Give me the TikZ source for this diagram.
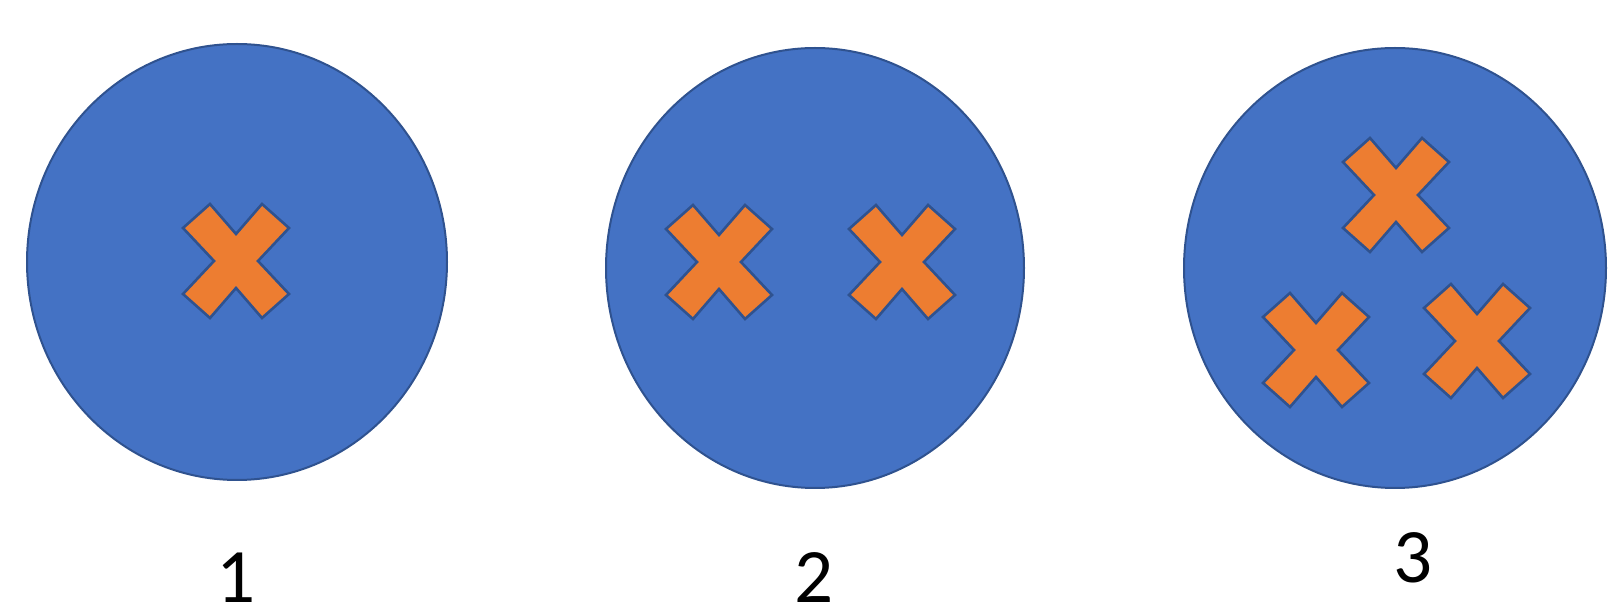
\documentclass[tikz,border=0pt]{standalone}
\usepackage{fontspec}
\setmainfont{Carlito}
\definecolor{discfill}{HTML}{4472C4}
\definecolor{discline}{HTML}{2F528F}
\definecolor{markfill}{HTML}{ED7D31}
\tikzset{
  disc/.style={fill=discfill, draw=discline, line width=1pt},
  markshape/.style={fill=markfill, draw=discline, line width=1.3pt, line join=miter},
  xmark/.pic={
    \path[markshape] (-53,-33) -- (-26,-57) -- (0,-27) -- (26,-57) -- (53,-33)
      -- (22,0) -- (53,33) -- (26,57) -- (0,27) -- (-26,57) -- (-53,33)
      -- (-22,0) -- cycle;
  },
  numlabel/.style={anchor=base, inner sep=0pt, font=\fontsize{38.5}{46}\selectfont, text=black}
}
\begin{document}
\begin{tikzpicture}[x=0.5pt, y=-0.5pt]
\useasboundingbox (0,0) rectangle (1608,614);
% discs
\path[disc] (237,262) ellipse [x radius=210, y radius=218];
\path[disc] (815,268) ellipse [x radius=209, y radius=220];
\path[disc] (1395,268) ellipse [x radius=211, y radius=220];
% marks
\pic at (236,261) {xmark};
\pic at (719,262) {xmark};
\pic at (902,262) {xmark};
\pic at (1396,195) {xmark};
\pic at (1316,350) {xmark};
\pic at (1477,341) {xmark};
% labels
\node[numlabel] (l1) at (236,603) {1};
\node[numlabel] (l2) at (814,603) {2};
\node[numlabel] (l3) at (1413,583) {3};
\end{tikzpicture}
\end{document}
